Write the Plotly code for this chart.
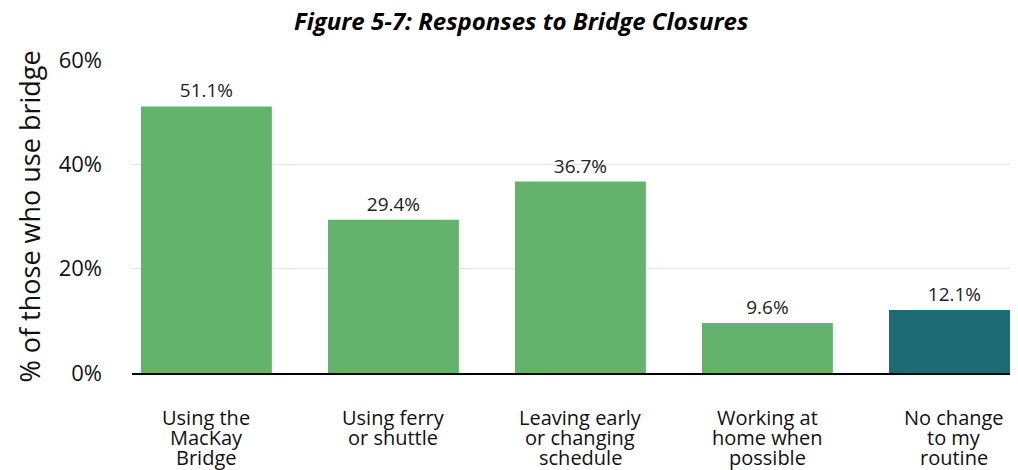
import plotly.graph_objects as go

categories = ["Using the<br>MacKay<br>Bridge", "Using ferry<br>or shuttle",
              "Leaving early<br>or changing<br>schedule", "Working at<br>home when<br>possible",
              "No change<br>to my<br>routine"]
values = [51.1, 29.4, 36.7, 9.6, 12.1]
colors = ["#63b36c", "#63b36c", "#63b36c", "#63b36c", "#1f6b75"]
value_labels = [f"{v:.1f}%" for v in values]
y_ticks = [0, 20, 40, 60]
y_ticklabels = ["0%", "20%", "40%", "60%"]

FONT = "Open Sans, sans-serif"
TXT = "#111111"

fig = go.Figure(go.Bar(
    x=list(range(len(categories))),
    y=values,
    marker=dict(color=colors, line=dict(width=0)),
    width=0.70,
    text=value_labels,
    textposition="outside",
    textfont=dict(family=FONT, size=19, color="#222222"),
    cliponaxis=False,
    hoverinfo="skip",
))

# category labels: one annotation per line for tight line spacing
annotations = []
for i, lab in enumerate(categories):
    for k, line in enumerate(lab.split("<br>")):
        annotations.append(dict(
            x=i, xref="x", y=0, yref="paper", text=line, showarrow=False,
            xanchor="center", yanchor="middle", yshift=-(44 + 20 * k),
            font=dict(family=FONT, size=20, color=TXT),
        ))

fig.update_layout(
    width=1010, height=462,
    margin=dict(l=124, r=0, t=52, b=97),
    paper_bgcolor="white", plot_bgcolor="white",
    showlegend=False,
    annotations=annotations,
    title=dict(text="<b><i>Figure 5-7: Responses to Bridge Closures</i></b>",
               x=0.508, xanchor="center", y=0.970, yanchor="middle",
               font=dict(family=FONT, size=24, color="#000000")),
    xaxis=dict(
        range=[-0.398, 4.34], showgrid=False, zeroline=False,
        showline=True, linecolor="#000000", linewidth=2,
        ticks="", showticklabels=False,
    ),
    yaxis=dict(
        range=[0, 60], tickmode="array", tickvals=y_ticks, ticktext=y_ticklabels,
        showgrid=True, gridcolor="#e4e4e4", gridwidth=1, zeroline=False,
        showline=False, ticks="", ticklabelstandoff=29,
        tickfont=dict(family=FONT, size=22, color=TXT),
        title=dict(text="% of those who use bridge", standoff=10,
                   font=dict(family=FONT, size=27, color=TXT)),
    ),
)

fig.write_html("out.html")
